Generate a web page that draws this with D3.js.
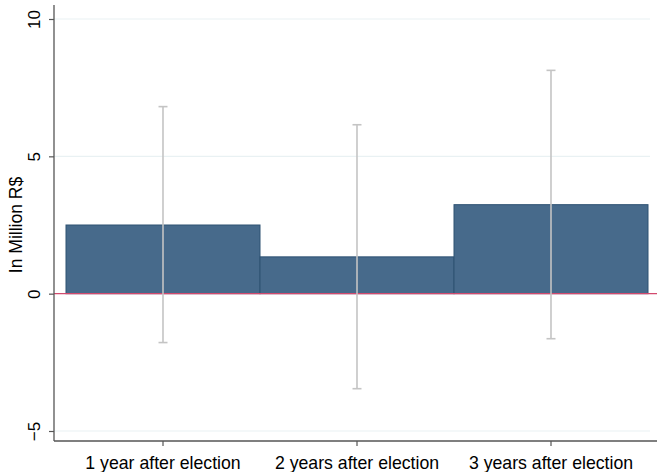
<!DOCTYPE html>
<html>
<head>
<meta charset="utf-8">
<script src="https://cdn.jsdelivr.net/npm/d3@7"></script>
<style>
  html, body { margin: 0; padding: 0; background: #fff; }
  svg { display: block; }
  text { font-family: "Liberation Sans", Arial, sans-serif; fill: #000; }
</style>
</head>
<body>
<svg id="chart" width="657" height="472"></svg>
<script>
// Estimated effect by year after election (million R$) with 95% CI
const periods = ["1 year after election", "2 years after election", "3 years after election"];
const estimates = [2.50, 1.34, 3.24];
const ciUpper = [6.81, 6.15, 8.13];
const ciLower = [-1.78, -3.46, -1.64];
const yTicks = [-5, 0, 5, 10];
const yTitle = "In Million R$";

const svg = d3.select("#chart");
const W = 657, H = 472;
const plot = { left: 54, right: 657, top: 19, bottom: 441 };

const y = d3.scaleLinear().domain([-5, 10]).range([431, 19]);

// bars sit on a band scale spanning the plot interior
const xBars = d3.scaleBand().domain(periods).range([66, 648]).padding(0);

// grid lines
svg.append("g")
  .selectAll("line")
  .data(yTicks.filter(d => d !== 0))
  .join("line")
  .attr("x1", plot.left).attr("x2", 650)
  .attr("y1", d => y(d)).attr("y2", d => y(d))
  .attr("stroke", "#e9f1f3").attr("stroke-width", 1.2);

// bars
svg.append("g")
  .selectAll("rect")
  .data(periods)
  .join("rect")
  .attr("x", d => xBars(d))
  .attr("width", xBars.bandwidth())
  .attr("y", (d, i) => y(Math.max(0, estimates[i])))
  .attr("height", (d, i) => Math.abs(y(estimates[i]) - y(0)))
  .attr("fill", "#476a8b")
  .attr("stroke", "#2e5273")
  .attr("stroke-width", 1);

// zero reference line
svg.append("line")
  .attr("x1", plot.left).attr("x2", W)
  .attr("y1", y(0)).attr("y2", y(0))
  .attr("stroke", "#d24a6e").attr("stroke-width", 1.2);

// confidence intervals
const ci = svg.append("g").attr("stroke", "#c4c4c4").attr("stroke-width", 1.6);
periods.forEach((p, i) => {
  const cx = xBars(p) + xBars.bandwidth() / 2;
  ci.append("line").attr("x1", cx).attr("x2", cx)
    .attr("y1", y(ciUpper[i])).attr("y2", y(ciLower[i]));
  [ciUpper[i], ciLower[i]].forEach(v => {
    ci.append("line").attr("x1", cx - 4.5).attr("x2", cx + 4.5)
      .attr("y1", y(v)).attr("y2", y(v));
  });
});

// y axis
const yAxis = svg.append("g")
  .attr("transform", `translate(${plot.left},0)`)
  .call(d3.axisLeft(y).tickValues(yTicks).tickSize(5).tickFormat(d3.format("d")));
yAxis.select(".domain").attr("d", `M0,5V${plot.bottom}`).attr("stroke", "#555").attr("stroke-width", 1.3);
yAxis.selectAll(".tick line").attr("stroke", "#555").attr("stroke-width", 1.2);
yAxis.selectAll(".tick text")
  .attr("x", null).attr("dy", null)
  .attr("transform", "translate(-14,0) rotate(-90)")
  .attr("text-anchor", "middle")
  .style("font-size", "17px")
  .style("font-family", "Liberation Sans, Arial, sans-serif");

// x axis, labelled at the bar centres
const xAxis = svg.append("g")
  .attr("transform", `translate(0,${plot.bottom})`)
  .call(d3.axisBottom(xBars).tickSize(5).tickSizeOuter(0));
xAxis.select(".domain").attr("d", `M${plot.left},0H${W}`).attr("stroke", "#555").attr("stroke-width", 1.3);
xAxis.selectAll(".tick line").attr("stroke", "#555").attr("stroke-width", 1.2);
xAxis.selectAll(".tick text")
  .attr("y", 28).attr("dy", null)
  .style("font-size", "17.7px")
  .style("font-family", "Liberation Sans, Arial, sans-serif");

// y axis title
svg.append("text")
  .attr("transform", `translate(22,225) rotate(-90)`)
  .attr("text-anchor", "middle")
  .style("font-size", "17.5px")
  .text(yTitle);
</script>
</body>
</html>
